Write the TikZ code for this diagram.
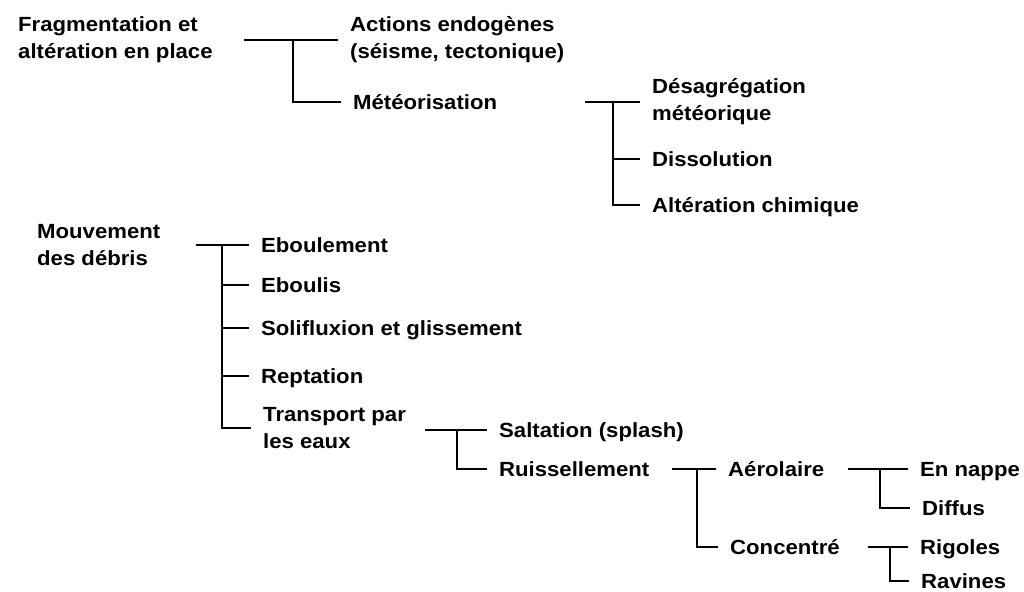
\documentclass[tikz,border=0pt]{standalone}
\usepackage{fontspec}
\newfontfamily\diagfont[FakeStretch=1.08]{Liberation Sans}
\tikzstyle{tedge}=[draw=black,line width=1.2pt]
\tikzstyle{term}=[
  anchor=west,
  align=left,
  inner xsep=12pt,
  inner ysep=0pt,
  font=\diagfont\bfseries\fontsize{20.5}{27}\selectfont,
]
\tikzstyle{single}=[
  term,
  text height=14.8pt,
  text depth=0pt,
]

\begin{document}
\begin{tikzpicture}[x=1pt,y=-1pt]
      \useasboundingbox (0,0) rectangle (1024,591);

      % fragmentation
      \node[term] (frag) at (6,40) {Fragmentation et\\altération en place};
      \node[term] (endo) at (338,40) {Actions endogènes\\(séisme, tectonique)};
      \node[single] (meteo) at (341,102) {Météorisation};
      \coordinate (fragstart) at (244,40);
      \coordinate (fragfork) at (293,40);
      \draw[tedge] (fragstart) -- (endo.west);
      \draw[tedge] (fragfork) |- (meteo.west);

      \node[term] (desag) at (640,102) {Désagrégation\\météorique};
      \node[single] (dissol) at (640,159) {Dissolution};
      \node[single] (altchim) at (640,205) {Altération chimique};
      \coordinate (meteostart) at (585,102);
      \coordinate (meteofork) at (613,102);
      \draw[tedge] (meteostart) -- (desag.west);
      \draw[tedge] (meteofork) |- (dissol.west);
      \draw[tedge] (meteofork) |- (altchim.west);

      % mouvement des debris
      \node[term] (mouv) at (25,245) {Mouvement\\des débris};
      \node[single] (ebl) at (249,245) {Eboulement};
      \node[single] (ebs) at (249,285) {Eboulis};
      \node[single] (solif) at (249,328) {Solifluxion et glissement};
      \node[single] (rept) at (249,376) {Reptation};
      \node[term] (transp) at (251,428) {Transport par\\les eaux};
      \coordinate (mouvstart) at (196,245);
      \coordinate (mouvfork) at (222,245);
      \draw[tedge] (mouvstart) -- (ebl.west);
      \draw[tedge] (mouvfork) |- (ebs.west);
      \draw[tedge] (mouvfork) |- (solif.west);
      \draw[tedge] (mouvfork) |- (rept.west);
      \draw[tedge] (mouvfork) |- (transp.west);

      \node[single] (salt) at (487,430) {Saltation (splash)};
      \node[single] (ruis) at (487,469) {Ruissellement};
      \coordinate (transpstart) at (425,430);
      \coordinate (transpfork) at (457,430);
      \draw[tedge] (transpstart) -- (salt.west);
      \draw[tedge] (transpfork) |- (ruis.west);

      \node[single] (aero) at (716,469) {Aérolaire};
      \node[single] (conc) at (718,547) {Concentré};
      \coordinate (ruisstart) at (672,469);
      \coordinate (ruisfork) at (697,469);
      \draw[tedge] (ruisstart) -- (aero.west);
      \draw[tedge] (ruisfork) |- (conc.west);

      \node[single] (nappe) at (908,469) {En nappe};
      \node[single] (diffus) at (910,508) {Diffus};
      \coordinate (aerostart) at (848,469);
      \coordinate (aerofork) at (880,469);
      \draw[tedge] (aerostart) -- (nappe.west);
      \draw[tedge] (aerofork) |- (diffus.west);

      \node[single] (rigoles) at (908,547) {Rigoles};
      \node[single] (ravines) at (909,581) {Ravines};
      \coordinate (concstart) at (868,547);
      \coordinate (concfork) at (890,547);
      \draw[tedge] (concstart) -- (rigoles.west);
      \draw[tedge] (concfork) |- (ravines.west);
    \end{tikzpicture}
\end{document}
